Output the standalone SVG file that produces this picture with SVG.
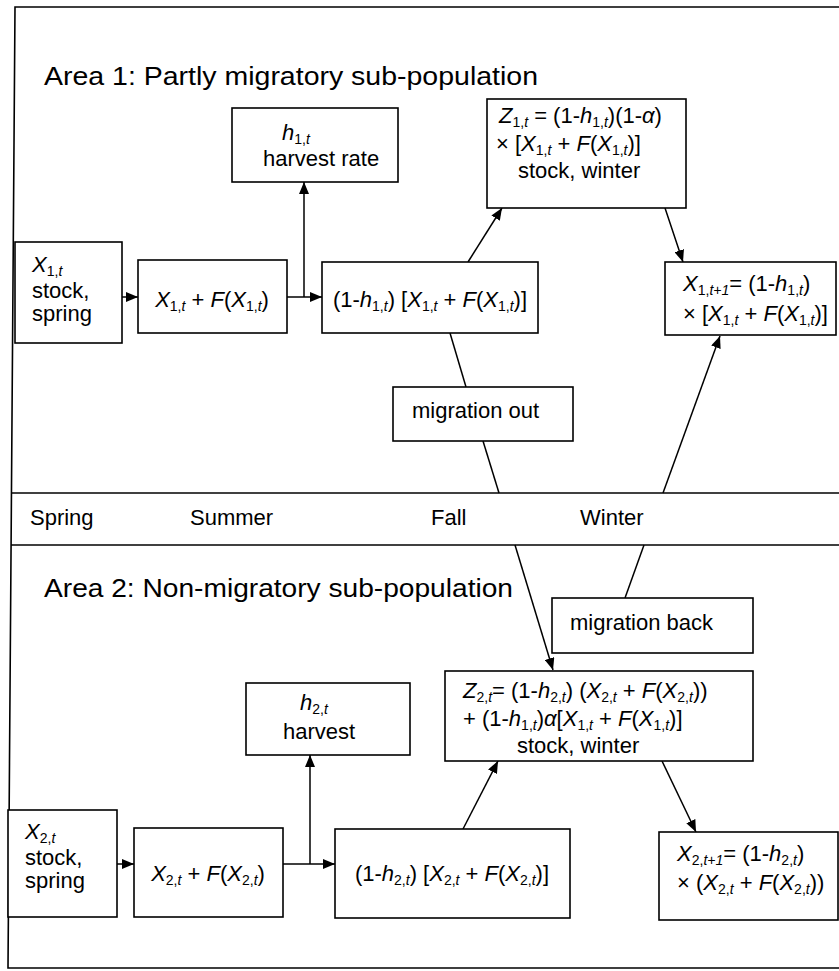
<svg xmlns="http://www.w3.org/2000/svg" width="839" height="971" viewBox="0 0 839 971">
<style>
.t{font-family:"Liberation Sans",Arial,sans-serif;font-size:22px;fill:#000}
.ttl{font-family:"Liberation Sans",Arial,sans-serif;font-size:26px;fill:#000}
.i{font-style:italic}
.s{font-size:14px}
.box{fill:#fff;stroke:#000;stroke-width:1.6}
.ln{fill:none;stroke:#000;stroke-width:1.5}
.ar{fill:none;stroke:#000;stroke-width:1.5;marker-end:url(#ah)}
.frame{fill:none;stroke:#000;stroke-width:1.6}
</style>
<defs>
<marker id="ah" viewBox="0 0 12 10" refX="12" refY="5" markerWidth="12" markerHeight="10" markerUnits="userSpaceOnUse" orient="auto"><path d="M0,0 L12,5 L0,10 z" fill="#000"/></marker>
</defs>
<rect width="839" height="971" fill="#fff"/>
<g id="frame">
<polyline class="frame" points="839,7 15,7 8,968 839,968"/>
<line class="frame" x1="12" y1="493" x2="839" y2="493"/>
<line class="frame" x1="11" y1="545" x2="839" y2="545"/>
<text class="ttl" x="44" y="85" textLength="494" lengthAdjust="spacingAndGlyphs">Area 1: Partly migratory sub-population</text>
<text class="ttl" x="44" y="597" textLength="469" lengthAdjust="spacingAndGlyphs">Area 2: Non-migratory sub-population</text>
<text class="t" x="30" y="525">Spring</text>
<text class="t" x="190" y="525">Summer</text>
<text class="t" x="431" y="525">Fall</text>
<text class="t" x="580" y="525">Winter</text>
</g>
<g id="connectors">
<line class="ar" x1="122" y1="297" x2="138" y2="297"/>
<line class="ar" x1="287" y1="297" x2="322" y2="297"/>
<line class="ar" x1="304" y1="297" x2="304" y2="182"/>
<line class="ar" x1="468" y1="262" x2="502" y2="208"/>
<line class="ar" x1="665" y1="208" x2="683" y2="262"/>
<line class="ln" x1="450" y1="333" x2="466" y2="387"/>
<line class="ln" x1="483" y1="441" x2="499" y2="493"/>
<line class="ar" x1="515" y1="545" x2="553" y2="670"/>
<line class="ln" x1="625" y1="598" x2="644" y2="545"/>
<line class="ar" x1="663" y1="493" x2="720" y2="336"/>
<line class="ar" x1="117" y1="864" x2="134" y2="864"/>
<line class="ar" x1="283" y1="864" x2="335" y2="864"/>
<line class="ar" x1="310" y1="864" x2="310" y2="755"/>
<line class="ar" x1="463" y1="829" x2="498" y2="761"/>
<line class="ar" x1="662" y1="761" x2="696" y2="832"/>
</g>
<g id="h1">
<rect class="box" x="232" y="108" width="166" height="74"/>
<text class="t" x="282" y="140"><tspan class="i">h</tspan><tspan class="s" dy="4">1,</tspan><tspan class="s i">t</tspan></text>
<text class="t" x="263" y="166">harvest rate</text>
</g>
<g id="z1">
<rect class="box" x="487" y="99" width="199" height="109"/>
<text class="t" x="499" y="123"><tspan class="i">Z</tspan><tspan class="s" dy="4">1,</tspan><tspan class="s i">t</tspan><tspan dy="-4"> = (1-</tspan><tspan class="i">h</tspan><tspan class="s" dy="4">1,</tspan><tspan class="s i">t</tspan><tspan dy="-4">)(1-</tspan><tspan class="i">α</tspan><tspan>)</tspan></text>
<text class="t" x="496" y="151"><tspan>× [</tspan><tspan class="i">X</tspan><tspan class="s" dy="4">1,</tspan><tspan class="s i">t</tspan><tspan dy="-4"> + </tspan><tspan class="i">F</tspan><tspan>(</tspan><tspan class="i">X</tspan><tspan class="s" dy="4">1,</tspan><tspan class="s i">t</tspan><tspan dy="-4">)]</tspan></text>
<text class="t" x="518" y="178">stock, winter</text>
</g>
<g id="x1spring">
<rect class="box" x="15" y="242" width="107" height="101"/>
<text class="t" x="32" y="272"><tspan class="i">X</tspan><tspan class="s" dy="4">1,</tspan><tspan class="s i">t</tspan></text>
<text class="t" x="32" y="298">stock,</text>
<text class="t" x="32" y="321">spring</text>
</g>
<g id="grow1">
<rect class="box" x="138" y="260" width="149" height="73"/>
<text class="t" x="212" y="307" text-anchor="middle"><tspan class="i">X</tspan><tspan class="s" dy="4">1,</tspan><tspan class="s i">t</tspan><tspan dy="-4"> + </tspan><tspan class="i">F</tspan><tspan>(</tspan><tspan class="i">X</tspan><tspan class="s" dy="4">1,</tspan><tspan class="s i">t</tspan><tspan dy="-4">)</tspan></text>
</g>
<g id="after1">
<rect class="box" x="322" y="262" width="216" height="71"/>
<text class="t" x="430" y="307" text-anchor="middle"><tspan>(1-</tspan><tspan class="i">h</tspan><tspan class="s" dy="4">1,</tspan><tspan class="s i">t</tspan><tspan dy="-4">) [</tspan><tspan class="i">X</tspan><tspan class="s" dy="4">1,</tspan><tspan class="s i">t</tspan><tspan dy="-4"> + </tspan><tspan class="i">F</tspan><tspan>(</tspan><tspan class="i">X</tspan><tspan class="s" dy="4">1,</tspan><tspan class="s i">t</tspan><tspan dy="-4">)]</tspan></text>
</g>
<g id="x1next">
<rect class="box" x="665" y="262" width="171" height="73"/>
<text class="t" x="683" y="291"><tspan class="i">X</tspan><tspan class="s" dy="4">1,</tspan><tspan class="s i">t+1</tspan><tspan dy="-4">= (1-</tspan><tspan class="i">h</tspan><tspan class="s" dy="4">1,</tspan><tspan class="s i">t</tspan><tspan dy="-4">)</tspan></text>
<text class="t" x="683" y="321"><tspan>× [</tspan><tspan class="i">X</tspan><tspan class="s" dy="4">1,</tspan><tspan class="s i">t</tspan><tspan dy="-4"> + </tspan><tspan class="i">F</tspan><tspan>(</tspan><tspan class="i">X</tspan><tspan class="s" dy="4">1,</tspan><tspan class="s i">t</tspan><tspan dy="-4">)]</tspan></text>
</g>
<g id="migout">
<rect class="box" x="393" y="387" width="180" height="54"/>
<text class="t" x="412" y="418">migration out</text>
</g>
<g id="migback">
<rect class="box" x="552" y="598" width="201" height="55"/>
<text class="t" x="570" y="630">migration back</text>
</g>
<g id="h2">
<rect class="box" x="246" y="683" width="164" height="72"/>
<text class="t" x="300" y="710"><tspan class="i">h</tspan><tspan class="s" dy="4">2,</tspan><tspan class="s i">t</tspan></text>
<text class="t" x="283" y="739">harvest</text>
</g>
<g id="z2">
<rect class="box" x="445" y="671" width="308" height="90"/>
<text class="t" x="463" y="698"><tspan class="i">Z</tspan><tspan class="s" dy="4">2,</tspan><tspan class="s i">t</tspan><tspan dy="-4">= (1-</tspan><tspan class="i">h</tspan><tspan class="s" dy="4">2,</tspan><tspan class="s i">t</tspan><tspan dy="-4">) (</tspan><tspan class="i">X</tspan><tspan class="s" dy="4">2,</tspan><tspan class="s i">t</tspan><tspan dy="-4"> + </tspan><tspan class="i">F</tspan><tspan>(</tspan><tspan class="i">X</tspan><tspan class="s" dy="4">2,</tspan><tspan class="s i">t</tspan><tspan dy="-4">))</tspan></text>
<text class="t" x="463" y="726"><tspan>+ (1-</tspan><tspan class="i">h</tspan><tspan class="s" dy="4">1,</tspan><tspan class="s i">t</tspan><tspan dy="-4">)</tspan><tspan class="i">α</tspan><tspan>[</tspan><tspan class="i">X</tspan><tspan class="s" dy="4">1,</tspan><tspan class="s i">t</tspan><tspan dy="-4"> + </tspan><tspan class="i">F</tspan><tspan>(</tspan><tspan class="i">X</tspan><tspan class="s" dy="4">1,</tspan><tspan class="s i">t</tspan><tspan dy="-4">)]</tspan></text>
<text class="t" x="517" y="753">stock, winter</text>
</g>
<g id="x2spring">
<rect class="box" x="8" y="810" width="109" height="107"/>
<text class="t" x="25" y="839"><tspan class="i">X</tspan><tspan class="s" dy="4">2,</tspan><tspan class="s i">t</tspan></text>
<text class="t" x="25" y="865">stock,</text>
<text class="t" x="25" y="888">spring</text>
</g>
<g id="grow2">
<rect class="box" x="134" y="828" width="149" height="89"/>
<text class="t" x="208" y="881" text-anchor="middle"><tspan class="i">X</tspan><tspan class="s" dy="4">2,</tspan><tspan class="s i">t</tspan><tspan dy="-4"> + </tspan><tspan class="i">F</tspan><tspan>(</tspan><tspan class="i">X</tspan><tspan class="s" dy="4">2,</tspan><tspan class="s i">t</tspan><tspan dy="-4">)</tspan></text>
</g>
<g id="after2">
<rect class="box" x="335" y="829" width="235" height="89"/>
<text class="t" x="452" y="881" text-anchor="middle"><tspan>(1-</tspan><tspan class="i">h</tspan><tspan class="s" dy="4">2,</tspan><tspan class="s i">t</tspan><tspan dy="-4">) [</tspan><tspan class="i">X</tspan><tspan class="s" dy="4">2,</tspan><tspan class="s i">t</tspan><tspan dy="-4"> + </tspan><tspan class="i">F</tspan><tspan>(</tspan><tspan class="i">X</tspan><tspan class="s" dy="4">2,</tspan><tspan class="s i">t</tspan><tspan dy="-4">)]</tspan></text>
</g>
<g id="x2next">
<rect class="box" x="659" y="832" width="179" height="88"/>
<text class="t" x="677" y="861"><tspan class="i">X</tspan><tspan class="s" dy="4">2,</tspan><tspan class="s i">t+1</tspan><tspan dy="-4">= (1-</tspan><tspan class="i">h</tspan><tspan class="s" dy="4">2,</tspan><tspan class="s i">t</tspan><tspan dy="-4">)</tspan></text>
<text class="t" x="677" y="890"><tspan>× (</tspan><tspan class="i">X</tspan><tspan class="s" dy="4">2,</tspan><tspan class="s i">t</tspan><tspan dy="-4"> + </tspan><tspan class="i">F</tspan><tspan>(</tspan><tspan class="i">X</tspan><tspan class="s" dy="4">2,</tspan><tspan class="s i">t</tspan><tspan dy="-4">))</tspan></text>
</g>
</svg>
